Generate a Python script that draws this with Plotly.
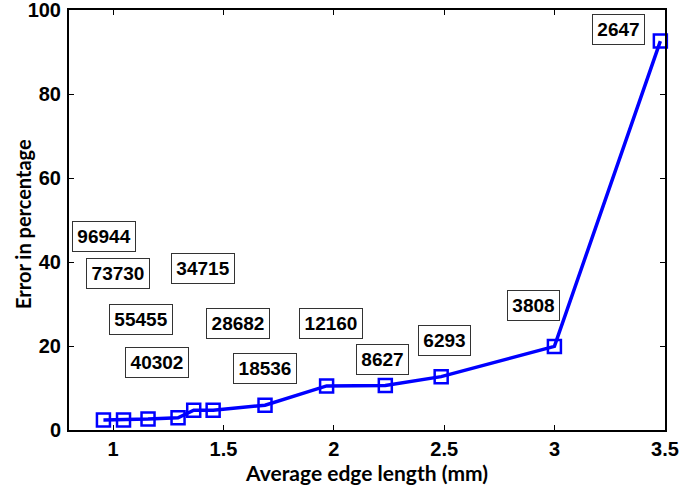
import plotly.graph_objects as go

edge_length = [0.956, 1.047, 1.158, 1.294, 1.365, 1.453, 1.688, 1.967, 2.233, 2.486, 2.999, 3.479]
error_pct = [2.4, 2.4, 2.6, 2.9, 4.7, 4.7, 5.9, 10.5, 10.6, 12.7, 19.9, 92.6]

label_text = ["96944", "73730", "34715", "55455", "28682", "40302", "18536",
              "12160", "8627", "6293", "3808", "2647"]
label_x = [0.959, 1.023, 1.407, 1.126, 1.564, 1.199, 1.689, 1.989, 2.221, 2.502, 2.903, 3.291]
label_y = [46.1, 37.3, 38.4, 26.2, 25.3, 16.0, 14.7, 25.4, 16.8, 21.2, 29.6, 95.4]

x_ticks = [1, 1.5, 2, 2.5, 3, 3.5]
x_tick_text = ["1", "1.5", "2", "2.5", "3", "3.5"]
y_ticks = [0, 20, 40, 60, 80, 100]

fig = go.Figure()
fig.add_trace(go.Scatter(
    x=edge_length, y=error_pct, mode="lines+markers",
    line=dict(color="#0000ff", width=3.5),
    marker=dict(symbol="square-open", size=13, color="#0000ff", line=dict(width=2.5, color="#0000ff")),
    showlegend=False, cliponaxis=False,
))

for t, xv, yv in zip(label_text, label_x, label_y):
    fig.add_annotation(
        x=xv, y=yv, xref="x", yref="y", text=t, showarrow=False,
        font=dict(family="Liberation Sans", size=19, color="black", weight="bold"),
        bordercolor="#333333", borderwidth=1, borderpad=1, bgcolor="white",
        width=60 if len(t) == 5 else 49, height=27,
    )

# y-axis title placed as rotated text next to the tick labels
fig.add_annotation(
    x=0, y=0.5, xref="paper", yref="paper", xanchor="center", yanchor="middle",
    xshift=-46, yshift=-4,
    text="Error in percentage", textangle=-90, showarrow=False,
    font=dict(family="Lato", size=20, color="black", weight="bold"),
)

tickfont = dict(family="Liberation Sans", size=20, color="black", weight="bold")
fig.update_layout(
    width=679, height=486,
    margin=dict(l=69, r=14, t=10, b=56),
    paper_bgcolor="white", plot_bgcolor="white",
    xaxis=dict(
        range=[0.8, 3.5], tickvals=x_ticks, ticktext=x_tick_text, automargin=False,
        ticks="inside", ticklen=5, tickcolor="black", tickwidth=1,
        showline=True, linecolor="black", linewidth=2, mirror="ticks",
        showgrid=False, zeroline=False, tickfont=tickfont, ticklabeloverflow="allow",
        ticklabelstandoff=0,
        title=dict(text="Average edge length (mm)", standoff=0,
                   font=dict(family="Lato", size=21, color="black", weight="bold")),
    ),
    yaxis=dict(
        range=[0, 100], tickvals=y_ticks, ticktext=[str(v) for v in y_ticks], automargin=False,
        ticks="inside", ticklen=5, tickcolor="black", tickwidth=1,
        showline=True, linecolor="black", linewidth=2, mirror="ticks",
        showgrid=False, zeroline=False, tickfont=tickfont, ticklabeloverflow="allow",
        ticklabelstandoff=2,
    ),
)

fig.write_html("out.html")
